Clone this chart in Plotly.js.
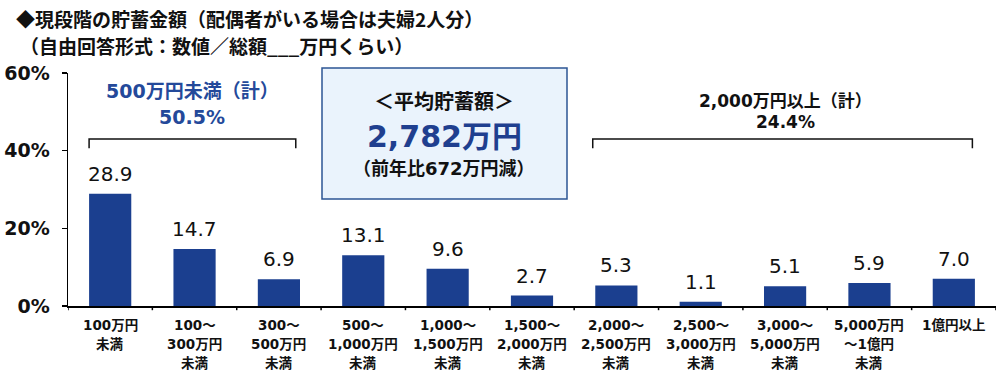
<!DOCTYPE html>
<html><head><meta charset="utf-8">
<script src="https://cdn.plot.ly/plotly-3.0.1.min.js"></script>
<style>html,body{margin:0;padding:0;background:#fff}#c{width:1000px;height:388px}</style>
</head><body><div id="c"></div>
<script>
const categories = ["100万円<br>未満","100～<br>300万円<br>未満","300～<br>500万円<br>未満","500～<br>1,000万円<br>未満","1,000～<br>1,500万円<br>未満","1,500～<br>2,000万円<br>未満","2,000～<br>2,500万円<br>未満","2,500～<br>3,000万円<br>未満","3,000～<br>5,000万円<br>未満","5,000万円<br>～1億円<br>未満","1億円以上"];
const values = [28.9, 14.7, 6.9, 13.1, 9.6, 2.7, 5.3, 1.1, 5.1, 5.9, 7.0];
const yTicks = [0, 20, 40, 60];
const titleLines = ["◆現段階の貯蓄金額（配偶者がいる場合は夫婦2人分）", "（自由回答形式：数値／総額___万円くらい）"];
const leftGroup = ["500万円未満（計）", "50.5%"];
const rightGroup = ["2,000万円以上（計）", "24.4%"];
const avgBox = ["＜平均貯蓄額＞", "2,782万円", "（前年比672万円減）"];

const F = '"Noto Sans CJK JP", "Noto Sans", sans-serif';
const FN = '"DejaVu Sans", "Noto Sans CJK JP", sans-serif';
const blue = '#1b3f8f';
const idx = categories.map((c,i)=>i);

const trace = {
  type: 'bar', x: idx, y: values,
  marker: {color: blue},
  width: 0.5,
  hoverinfo: 'skip'
};

const layout = {
  width: 1000, height: 388,
  margin: {l: 68, r: 4, t: 73, b: 82},
  paper_bgcolor: '#fff', plot_bgcolor: '#fff',
  showlegend: false,
  xaxis: {
    tickmode: 'array', tickvals: idx, ticktext: idx.map(()=>''),
    range: [-0.5, 10.5],
    showline: true, linecolor: '#000', linewidth: 1.5,
    ticks: '', showgrid: false, zeroline: false
  },
  yaxis: {
    range: [0, 60], tickmode: 'array', tickvals: yTicks,
    ticktext: yTicks.map(t=>t+'%'),
    showline: true, linecolor: '#000', linewidth: 1.5,
    ticks: 'outside', ticklen: 5, tickcolor: '#000', tickwidth: 1.5,
    ticklabelstandoff: 8,
    showgrid: false, zeroline: false,
    tickfont: {family: FN, size: 19, color: '#111', weight: 'bold'}
  },
  shapes: [],
  annotations: []
};

// x-axis boundary ticks
for (let i = 0; i <= categories.length; i++) {
  layout.shapes.push({type:'line', xref:'x', yref:'paper', x0:i-0.5, x1:i-0.5, y0:0, y1:-0.018, line:{color:'#000', width:1.5}});
}
// brackets
function bracket(x0, x1) {
  const yTop = 43.0, yTip = 40.6;
  layout.shapes.push({type:'path', xref:'x', yref:'y',
    path:`M ${x0} ${yTip} L ${x0} ${yTop} L ${x1} ${yTop} L ${x1} ${yTip}`,
    line:{color:'#111', width:1.5}});
}
bracket(-0.25, 2.2);
bracket(5.72, 10.22);

const px = x => (x-68)/928;
const py = y => (306-y)/233;

// avg box
layout.shapes.push({type:'rect', xref:'paper', yref:'paper',
  x0:px(322), x1:px(567), y0:py(199), y1:py(68),
  fillcolor:'#eaf3fc', line:{color:'#2d5594', width:1.5}});

// value labels
values.forEach((v,i)=>{
  layout.annotations.push({text: v.toFixed(1), xref:'x', yref:'y', x:i, y:v,
    xanchor:'center', yanchor:'middle', yshift:20, showarrow:false,
    font:{family:FN, size:20, color:'#111'}});
});

// category labels, one annotation per line
categories.forEach((c,i)=>{
  c.split('<br>').forEach((line,k)=>{
    layout.annotations.push({text: line, xref:'x', yref:'paper', x:i, y:py(325+19*k),
      xanchor:'center', yanchor:'middle', showarrow:false,
      font:{family:FN, size:13.5, color:'#111', weight:'bold'}});
  });
});

function ann(text, x, y, size, color, weight, fam) {
  layout.annotations.push({text, xref:'paper', yref:'paper', x:px(x), y:py(y),
    xanchor:'center', yanchor:'middle', showarrow:false,
    font:{family:fam||FN, size, color, weight: weight||'normal'}});
}
ann(leftGroup[0], 192, 91, 19, '#24499a', 'bold');
ann(leftGroup[1], 192, 117, 19, '#24499a', 'bold');
ann(rightGroup[0], 785, 101, 17, '#111', 'bold');
ann(rightGroup[1], 785, 122, 17, '#111', 'bold');
ann(avgBox[0], 444, 102, 20, '#111', 'bold');
ann(avgBox[1], 444, 136, 30, '#1f3f8f', 'bold');
ann(avgBox[2], 444, 168, 18, '#111', 'bold');

// title
layout.annotations.push({text: titleLines[0], xref:'paper', yref:'paper', x:px(14), y:py(19),
  xanchor:'left', yanchor:'middle', showarrow:false, font:{family:F, size:19, color:'#111', weight:'bold'}});
layout.annotations.push({text: titleLines[1], xref:'paper', yref:'paper', x:px(18), y:py(45),
  xanchor:'left', yanchor:'middle', showarrow:false, font:{family:F, size:19, color:'#111', weight:'bold'}});

Plotly.newPlot('c', [trace], layout, {staticPlot: true, displayModeBar: false});
</script></body></html>
